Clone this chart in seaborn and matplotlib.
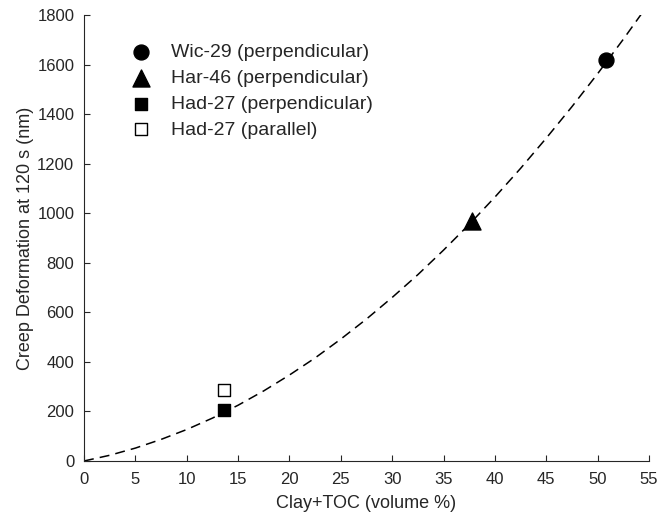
import matplotlib
matplotlib.use("Agg")
import matplotlib.pyplot as plt
import seaborn as sns
import pandas as pd

# Measured samples
samples = ["Wic-29 (perpendicular)", "Har-46 (perpendicular)",
           "Had-27 (perpendicular)", "Had-27 (parallel)"]
clay_toc = [50.8, 37.8, 13.6, 13.6]
creep = [1620, 970, 206, 285]

# Dashed trend curve
fit_x = [0, 2.5, 5, 7.5, 10, 12.5, 15, 17.5, 20, 22.5, 25, 27.5, 30,
         32.5, 35, 37.5, 40, 42.5, 45, 47.5, 50, 52.5, 55]
fit_y = [0, 23, 52, 87, 127, 173, 225, 283, 347, 416, 492, 573, 660,
         752, 851, 955, 1065, 1181, 1303, 1430, 1563, 1702, 1847]

x_ticks = [0, 5, 10, 15, 20, 25, 30, 35, 40, 45, 50, 55]
y_ticks = [0, 200, 400, 600, 800, 1000, 1200, 1400, 1600, 1800]

sns.set_theme(style="ticks")
plt.rcParams["font.family"] = ["Liberation Sans", "DejaVu Sans"]
plt.rcParams["xtick.direction"] = "in"
plt.rcParams["ytick.direction"] = "in"

fig = plt.figure(figsize=(6.58, 5.19), dpi=100)
ax = fig.add_axes([0.1277, 0.1118, 0.8586, 0.8593])

fit_df = pd.DataFrame({"x": fit_x, "y": fit_y})
sns.lineplot(data=fit_df, x="x", y="y", ax=ax, color="black",
             linewidth=1.1, dashes=False, legend=False, zorder=1)
ax.lines[0].set_dashes([6.5, 4])

styles = [
    dict(marker="o", s=115, color="black", edgecolor="black"),
    dict(marker="^", s=150, color="black", edgecolor="black"),
    dict(marker="s", s=75, color="black", edgecolor="black"),
    dict(marker="s", s=75, color="white", edgecolor="black"),
]
for name, xv, yv, st in zip(samples, clay_toc, creep, styles):
    sns.scatterplot(x=[xv], y=[yv], ax=ax, label=name, linewidth=1.0,
                    zorder=3, **st)

ax.set_xlim(0, 55)
ax.set_ylim(0, 1800)
ax.set_xticks(x_ticks)
ax.set_yticks(y_ticks)
ax.tick_params(labelsize=12, length=4, width=0.8, colors="#262626")
ax.tick_params(axis="x", pad=8)
ax.tick_params(axis="y", pad=7)
ax.set_xlabel("Clay+TOC (volume %)", fontsize=13, color="#262626", labelpad=6)
ax.set_ylabel("Creep Deformation at 120 s (nm)", fontsize=13, color="#262626",
              labelpad=2)
for side in ["top", "right"]:
    ax.spines[side].set_visible(False)
for side in ["left", "bottom"]:
    ax.spines[side].set_linewidth(0.8)
    ax.spines[side].set_color("#262626")

leg = ax.legend(loc="upper left", bbox_to_anchor=(0.049, 0.975), frameon=False,
                fontsize=14, handletextpad=0.95, labelspacing=0.42,
                handlelength=1.2)
for t in leg.get_texts():
    t.set_color("#262626")

fig.savefig("out.png", dpi=100)
